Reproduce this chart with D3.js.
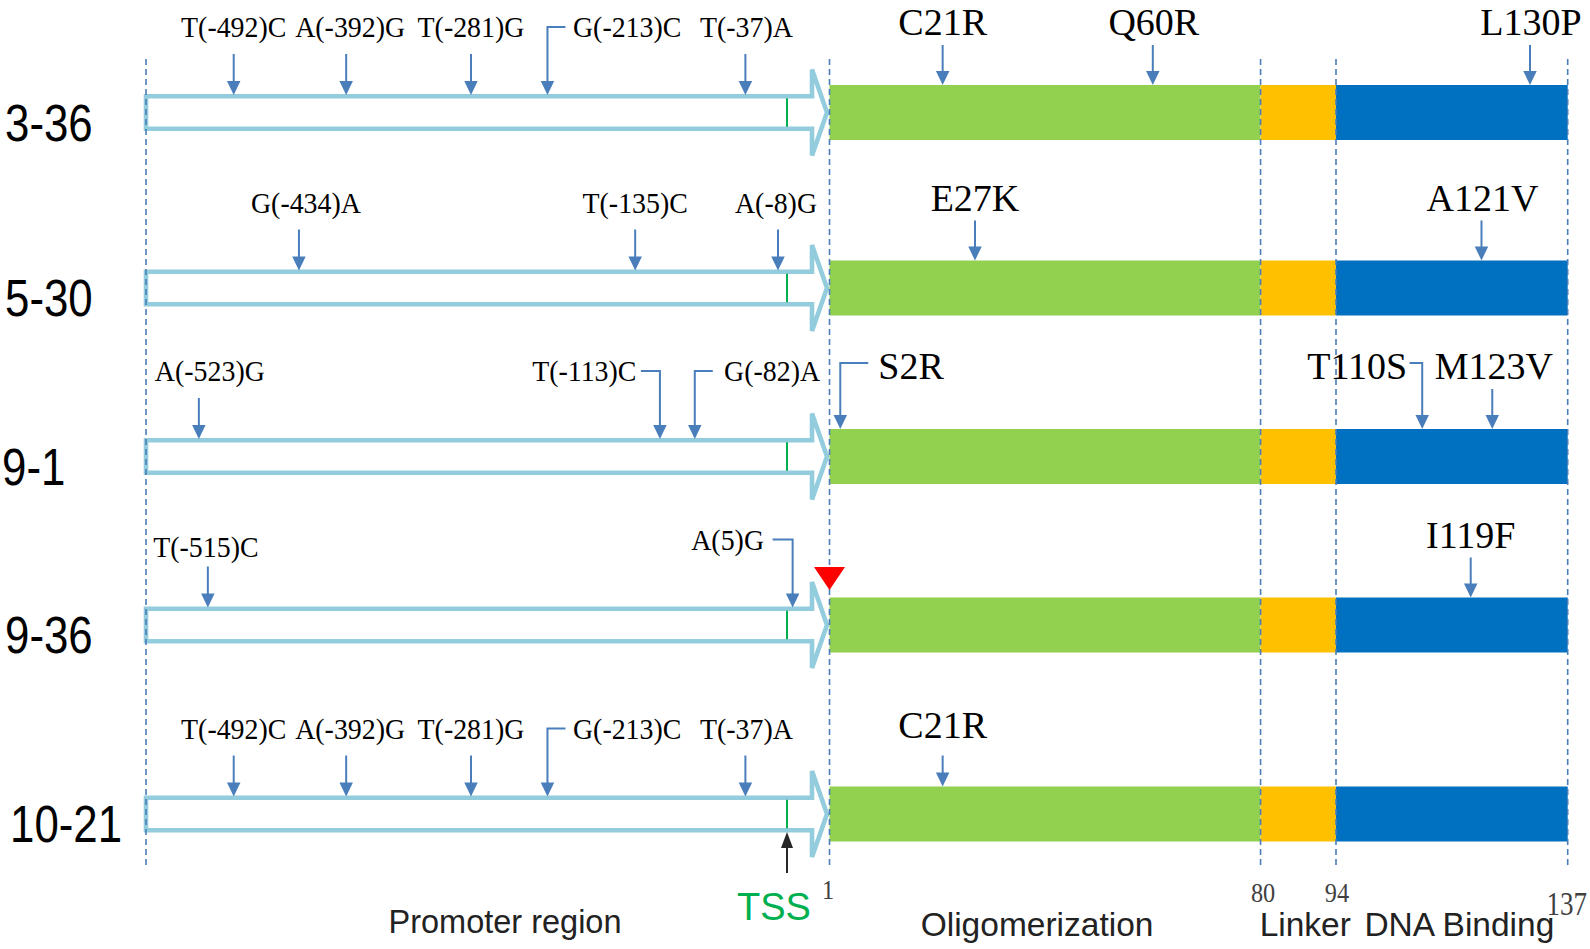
<!DOCTYPE html>
<html><head><meta charset="utf-8">
<script src="https://cdn.jsdelivr.net/npm/d3@7/dist/d3.min.js"></script>
<style>html,body{margin:0;padding:0;background:#fff}svg{display:block}</style>
</head><body><svg id="chart" width="1590" height="949"></svg>
<script>
// ---------------- data ----------------
const samples = ["3-36", "5-30", "9-1", "9-36", "10-21"];
const domainNames = ["Oligomerization", "Linker", "DNA Binding"];
const domainStart = [1, 81, 95];
const domainEnd = [80, 94, 137];
const boundaryTicks = [1, 80, 94, 137];
const promoterExtent = [-570, 0];          // bp relative to TSS
const proteinLength = 137;

const promoterSNPs = [
  { sample: "3-36",  label: "T(-492)C", pos: -492 },
  { sample: "3-36",  label: "A(-392)G", pos: -392 },
  { sample: "3-36",  label: "T(-281)G", pos: -281 },
  { sample: "3-36",  label: "G(-213)C", pos: -213 },
  { sample: "3-36",  label: "T(-37)A",  pos: -37 },
  { sample: "5-30",  label: "G(-434)A", pos: -434 },
  { sample: "5-30",  label: "T(-135)C", pos: -135 },
  { sample: "5-30",  label: "A(-8)G",   pos: -8 },
  { sample: "9-1",   label: "A(-523)G", pos: -523 },
  { sample: "9-1",   label: "T(-113)C", pos: -113 },
  { sample: "9-1",   label: "G(-82)A",  pos: -82 },
  { sample: "9-36",  label: "T(-515)C", pos: -515 },
  { sample: "9-36",  label: "A(5)G",    pos: 5 },
  { sample: "10-21", label: "T(-492)C", pos: -492 },
  { sample: "10-21", label: "A(-392)G", pos: -392 },
  { sample: "10-21", label: "T(-281)G", pos: -281 },
  { sample: "10-21", label: "G(-213)C", pos: -213 },
  { sample: "10-21", label: "T(-37)A",  pos: -37 }
];

const proteinMutations = [
  { sample: "3-36",  label: "C21R",  pos: 21 },
  { sample: "3-36",  label: "Q60R",  pos: 60 },
  { sample: "3-36",  label: "L130P", pos: 130 },
  { sample: "5-30",  label: "E27K",  pos: 27 },
  { sample: "5-30",  label: "A121V", pos: 121 },
  { sample: "9-1",   label: "S2R",   pos: 2 },
  { sample: "9-1",   label: "T110S", pos: 110 },
  { sample: "9-1",   label: "M123V", pos: 123 },
  { sample: "9-36",  label: "I119F", pos: 119 },
  { sample: "10-21", label: "C21R",  pos: 21 }
];

const startMarks = [{ sample: "9-36", pos: 1 }];

// ---------------- layout / style ----------------
const W = 1590, H = 949;
const COL = {
  outline: "#93CDDD", mut: "#4A7EBB", dash: "#4A7EBB",
  tss: "#00B050", red: "#FF0000", text: "#000", num: "#404040",
  domains: ["#92D050", "#FFC000", "#0070C0"]
};
const SERIF = "'Liberation Serif','Times New Roman',serif";
const SANS = "'Liberation Sans',Arial,sans-serif";

const rowY = d3.scaleOrdinal().domain(samples).range([112.5, 288, 456.5, 625, 814]);
const rowLabelDx = [0, 0, -3, 0, 5];
const xProm = d3.scaleLinear().domain(promoterExtent).range([146, 787]);
const xProt = d3.scaleLinear().domain([0, proteinLength]).range([829.5, 1567.7]);
const edge = v => v === 1 ? xProt(0) : xProt(v);

// label placement tweaks (layout only)
const labelLayout = {
  "3-36|A(-392)G": { dx: 4 }, "10-21|A(-392)G": { dx: 4 },
  "3-36|G(-213)C": { anchor: "start", dx: 25.5, elbow: 18 },
  "10-21|G(-213)C": { anchor: "start", dx: 25.5, elbow: 18 },
  "3-36|T(-37)A": { dx: 1 }, "10-21|T(-37)A": { dx: 1 },
  "5-30|G(-434)A": { dx: 7 }, "5-30|A(-8)G": { dx: -2 },
  "9-1|A(-523)G": { dx: 11 },
  "9-1|T(-113)C": { anchor: "end", dx: -23.5, elbow: -19 },
  "9-1|G(-82)A": { anchor: "start", dx: 29.3, elbow: 18 },
  "9-36|T(-515)C": { dx: -2, dy: 7 },
  "9-36|A(5)G": { anchor: "end", dx: -28.6, elbow: -20 },
  "3-36|Q60R": { dx: 1 }, "3-36|L130P": { dx: 1 },
  "5-30|A121V": { dx: 1 },
  "9-1|S2R": { anchor: "start", dx: 38, elbow: 28 },
  "9-1|T110S": { anchor: "end", dx: -15, elbow: -12.6 },
  "9-1|M123V": { dx: 1.5 },
  "10-21|C21R": { dy: 1, len: 31 }
};

const svg = d3.select("#chart");
svg.append("rect").attr("width", W).attr("height", H).attr("fill", "#fff");

function addText(g, x, y, txt, o) {
  return g.append("text")
    .attr("transform", `translate(${x},${y}) scale(${o.sx || 1},1)`)
    .attr("text-anchor", o.anchor || "middle")
    .attr("font-family", o.family || SERIF)
    .attr("font-size", o.size)
    .attr("fill", o.fill || COL.text)
    .text(txt);
}
function downArrow(g, x, y0, y1, color) {
  const hl = 14, hw = 13.5;
  g.append("line").attr("x1", x).attr("x2", x).attr("y1", y0).attr("y2", y1 - hl + 1)
    .attr("stroke", color).attr("stroke-width", 2);
  g.append("path").attr("d", `M${x - hw / 2},${y1 - hl}L${x + hw / 2},${y1 - hl}L${x},${y1}Z`).attr("fill", color);
}

const gRows = svg.append("g");
samples.forEach(s => {
  const cy = rowY(s);
  const g = gRows.append("g");
  // promoter block arrow
  const x0 = xProm(promoterExtent[0]), tip = xProt(0) - 2.5, hb = tip - 15;
  const bh = 16.3, hh = 43;
  g.append("path")
    .attr("d", `M${x0},${cy - bh}L${hb},${cy - bh}L${hb},${cy - hh}L${tip},${cy}L${hb},${cy + hh}L${hb},${cy + bh}L${x0},${cy + bh}Z`)
    .attr("fill", "#fff").attr("stroke", COL.outline).attr("stroke-width", 4.6);
  // TSS mark
  g.append("line").attr("x1", xProm(0)).attr("x2", xProm(0))
    .attr("y1", cy - bh + 2).attr("y2", cy + bh - 2)
    .attr("stroke", COL.tss).attr("stroke-width", 2);
  // protein domains
  domainNames.forEach((d, i) => {
    g.append("rect")
      .attr("x", xProt(domainStart[i] - 1)).attr("y", cy - 27.5)
      .attr("width", xProt(domainEnd[i]) - xProt(domainStart[i] - 1)).attr("height", 55)
      .attr("fill", COL.domains[i]);
  });
});

// dashed guide lines
const guideXs = [xProm(promoterExtent[0])].concat(boundaryTicks.map(edge));
svg.append("g").selectAll("line").data(guideXs).join("line")
  .attr("x1", d => d).attr("x2", d => d).attr("y1", 59).attr("y2", 867)
  .attr("stroke", COL.dash).attr("stroke-width", 1.6).attr("stroke-dasharray", "6,4");

// mutation arrows + labels
const gMut = svg.append("g");
promoterSNPs.forEach(m => {
  const cy = rowY(m.sample);
  const L = labelLayout[m.sample + "|" + m.label] || {};
  const x = xProm(m.pos);
  const base = cy - 75.5 + (L.dy || 0);
  const tipY = cy - 17.5;
  addText(gMut, x + (L.dx || 0), base, m.label, { size: 30, sx: 0.93, anchor: L.anchor || "middle" });
  if (L.elbow) {
    const ey = base - 10;
    gMut.append("path").attr("d", `M${x + L.elbow},${ey}L${x},${ey}L${x},${tipY - 13}`)
      .attr("fill", "none").attr("stroke", COL.mut).attr("stroke-width", 2);
    downArrow(gMut, x, tipY - 14, tipY, COL.mut);
  } else {
    downArrow(gMut, x, tipY - 41, tipY, COL.mut);
  }
});
proteinMutations.forEach(m => {
  const cy = rowY(m.sample);
  const L = labelLayout[m.sample + "|" + m.label] || {};
  const x = xProt(m.pos);
  const base = cy - 77.5 + (L.dy || 0);
  const tipY = cy - 27.5;
  addText(gMut, x + (L.dx || 0), base, m.label, { size: 38, anchor: L.anchor || "middle" });
  if (L.elbow) {
    const ey = base - 16;
    gMut.append("path").attr("d", `M${x + L.elbow},${ey}L${x},${ey}L${x},${tipY - 13}`)
      .attr("fill", "none").attr("stroke", COL.mut).attr("stroke-width", 2);
    downArrow(gMut, x, tipY - 14, tipY, COL.mut);
  } else {
    downArrow(gMut, x, tipY - (L.len || 40), tipY, COL.mut);
  }
});

// red start marker
startMarks.forEach(m => {
  const cy = rowY(m.sample), x = edge(m.pos), ty = cy - 35;
  svg.append("path").attr("d", `M${x - 15.5},${ty - 23}L${x + 15.5},${ty - 23}L${x},${ty}Z`).attr("fill", COL.red);
});

// row labels
samples.forEach((s, i) => {
  addText(svg, 5 + rowLabelDx[i], rowY(s) + 28, s, { size: 51, family: SANS, anchor: "start", sx: 0.86 });
});

// TSS pointer
const tssX = xProm(0);
svg.append("line").attr("x1", tssX).attr("x2", tssX).attr("y1", 873).attr("y2", 846)
  .attr("stroke", "#262626").attr("stroke-width", 2);
svg.append("path").attr("d", `M${tssX - 6},${848}L${tssX + 6},${848}L${tssX},${832}Z`).attr("fill", "#262626");
addText(svg, tssX - 13, 920, "TSS", { size: 38, family: SANS, fill: COL.tss });

// boundary numbers
const numDx = [-1.5, 2.5, 1, -1];
const numBase = [899, 902, 902, 915];
const numSize = [27, 27, 27, 33];
const numSx = [0.9, 0.9, 0.9, 0.82];
boundaryTicks.forEach((v, i) => {
  addText(svg, edge(v) + numDx[i], numBase[i], String(v), { size: numSize[i], fill: COL.num, sx: numSx[i] });
});

// region labels
addText(svg, 505, 933, "Promoter region", { size: 32.5, family: SANS, fill: "#222" });
const domCenter = i => (xProt(domainStart[i] - 1) + xProt(domainEnd[i])) / 2;
const domDx = [-8, 7, 7.5];
domainNames.forEach((d, i) => {
  addText(svg, domCenter(i) + domDx[i], 936, d, { size: 33.5, family: SANS, fill: "#222" });
});
</script></body></html>
